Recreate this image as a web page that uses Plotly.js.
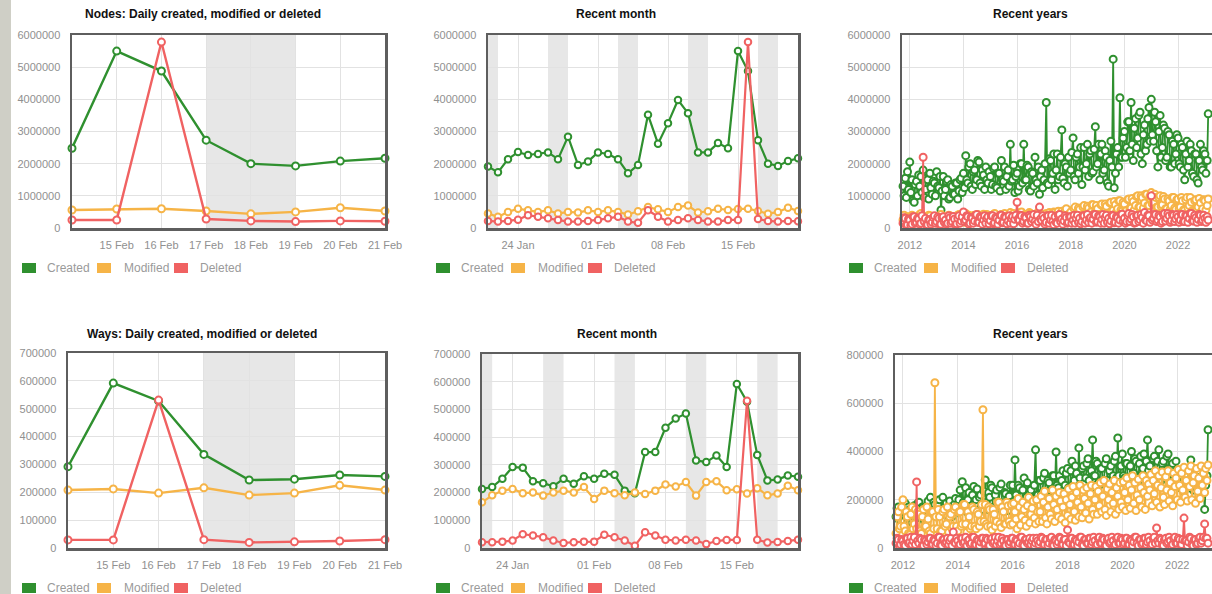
<!DOCTYPE html>
<html><head><meta charset="utf-8">
<script src="https://cdn.plot.ly/plotly-3.0.1.min.js"></script>
<style>html,body{margin:0;padding:0;overflow:hidden;background:#fff}#chart{width:1230px;height:594px}</style>
</head><body><div id="chart"></div>
<script>
// ---------- DATA (values in thousands) ----------
const titles = ['Nodes: Daily created, modified or deleted', 'Recent month', 'Recent years',
                'Ways: Daily created, modified or deleted', 'Recent month', 'Recent years'];
const seriesNames = ['Created', 'Modified', 'Deleted'];

const monthDates = ['2023-01-21','2023-01-22','2023-01-23','2023-01-24','2023-01-25','2023-01-26','2023-01-27','2023-01-28',
  '2023-01-29','2023-01-30','2023-01-31','2023-02-01','2023-02-02','2023-02-03','2023-02-04','2023-02-05','2023-02-06',
  '2023-02-07','2023-02-08','2023-02-09','2023-02-10','2023-02-11','2023-02-12','2023-02-13','2023-02-14','2023-02-15',
  '2023-02-16','2023-02-17','2023-02-18','2023-02-19','2023-02-20','2023-02-21'];
const weekTickVals = ['2023-02-15','2023-02-16','2023-02-17','2023-02-18','2023-02-19','2023-02-20','2023-02-21'];
const weekTickText = ['15 Feb','16 Feb','17 Feb','18 Feb','19 Feb','20 Feb','21 Feb'];
const monthTickVals = ['2023-01-24','2023-02-01','2023-02-08','2023-02-15'];
const monthTickText = ['24 Jan','01 Feb','08 Feb','15 Feb'];
const yearTickVals = ['2012-01-01','2014-01-01','2016-01-01','2018-01-01','2020-01-01','2022-01-01'];
const yearTickText = ['2012','2014','2016','2018','2020','2022'];
const weekendBands = [['2023-01-21','2023-01-22'],['2023-01-27','2023-01-29'],['2023-02-03','2023-02-05'],
                      ['2023-02-10','2023-02-12'],['2023-02-17','2023-02-19']];

const nodesMonthCreated = [1910,1730,2140,2360,2270,2300,2350,2140,2840,1960,2070,2350,2300,2140,1700,1960,
  3520,2620,3260,3980,3570,2350,2350,2640,2480,5500,4880,2730,2000,1930,2080,2170];
const nodesMonthModified = [450,350,500,600,550,500,550,450,500,480,550,500,550,500,420,520,
  650,580,500,650,700,480,520,600,560,590,600,530,440,500,630,530];
const nodesMonthDeleted = [220,200,220,260,400,350,300,250,200,200,220,250,300,350,200,160,
  550,350,200,250,300,250,200,200,250,250,5780,280,220,200,220,210];

const waysMonthCreated = [213,220,250,292,290,241,234,223,250,232,259,250,268,264,207,198,
  346,346,434,467,485,316,310,334,292,592,528,336,244,247,262,257];
const waysMonthModified = [165,190,207,213,198,200,189,200,207,200,220,177,207,198,190,200,
  195,207,229,222,238,189,238,241,208,212,197,216,190,197,225,208];
const waysMonthDeleted = [21,21,23,27,50,45,39,27,18,21,23,23,48,39,27,8,
  57,45,30,27,30,27,14,25,29,29,531,30,20,22,25,30];

// readings on the 1st and 15th of each month, Oct 2011 .. Feb 2023
const yearsFirst = [2011, 10], yearsLast = [2023, 2], yearsDays = ['01', '15'];
const nodesYearsCreated = [
  1300,1000,1550,950,1750,1200,
  2050,1100,1500,850,800,1350,1450,1000,1650,1300,1600,1100,1800,950,1200,1550,1500,900,1700,1250,1050,1450,1400,1000,
  1750,1300,1250,1600,560,1150,1600,1000,1200,1450,1500,900,950,1350,1300,1050,1050,1400,1400,900,1150,1500,1550,1100,
  1700,1250,2250,1500,1400,1900,2000,1300,1200,1750,1800,1350,1500,2100,2050,1400,1300,1800,1650,1200,1900,1500,1400,1750,
  1600,1200,1350,1850,1900,1300,1250,1700,1700,1150,2100,1500,1450,1900,1200,1600,1800,1300,2600,1450,1500,1950,1100,1600,
  1700,1150,1300,2000,2000,1400,2600,1500,1500,1950,1900,1200,1150,1750,1700,1300,2200,1500,1400,1900,1050,1600,1800,1250,
  1500,2000,3900,1400,1350,2150,2100,1500,1700,2300,1200,1800,2300,1500,1600,2200,3050,1550,1400,2000,1900,1300,2200,1700,
  1800,2350,2800,1600,1500,2200,2300,1700,1900,2500,1350,1900,2500,1800,2000,2600,1600,2300,2400,1700,1750,2450,3150,1900,
  2000,2600,1500,2300,2600,1700,1800,2400,2200,1400,1300,2100,2700,1900,5250,1250,1700,2300,2500,1900,4050,2200,2200,2800,
  3000,2200,2500,3300,3300,2400,3900,2600,2100,3100,3400,2500,2800,3500,3600,2300,2000,2900,3200,2400,2600,3400,3750,2700,
  4000,2900,2700,3600,3300,2400,1900,3000,3500,2200,2500,3200,3100,2100,2200,3000,2900,1900,1900,2700,2600,2000,2300,2900,
  2800,2000,1900,2600,2500,1800,1500,2300,2700,1900,2100,2600,2400,1700,1600,2300,2300,1500,1400,2100,2600,1900,1800,2400,
  2300,1700,2100,3550];
const nodesYearsModified = [
  250,400,150,300,350,180,
  200,350,400,150,150,300,300,200,250,420,450,200,180,350,320,150,220,400,380,200,150,320,280,180,
  350,150,200,380,420,200,160,320,300,180,250,400,380,200,190,330,330,160,260,400,420,220,200,350,
  300,180,450,250,220,400,350,200,180,380,400,220,260,420,320,180,200,360,430,250,280,420,240,180,
  380,200,230,420,450,250,300,180,200,400,420,250,260,450,350,200,220,420,480,260,300,450,250,200,
  420,250,280,480,500,250,230,420,380,220,300,480,450,260,260,420,400,230,320,500,480,280,270,430,
  350,250,450,300,280,480,420,300,330,500,480,300,300,520,400,280,520,350,350,550,600,380,420,320,
  500,330,350,600,650,400,420,620,580,380,380,650,700,430,450,680,620,420,500,720,720,450,480,700,
  600,420,420,720,750,480,500,750,680,450,450,780,800,520,550,820,720,500,600,850,850,560,520,800,
  750,520,550,880,900,600,620,920,820,560,700,980,1000,650,650,1000,950,620,780,1050,1050,700,700,1000,
  1100,750,800,1050,950,650,650,950,1000,680,720,980,900,600,600,900,850,580,700,950,950,620,580,880,
  900,600,650,950,850,560,550,880,950,620,700,950,800,540,520,850,880,580,650,920,780,520,600,880,
  850,560,700,900];
const nodesYearsDeleted = [
  150,320,300,100,100,280,
  250,80,120,350,350,150,180,300,280,120,150,380,2200,200,300,100,100,260,250,120,180,330,380,150,
  200,340,300,100,120,320,350,180,250,120,150,380,320,150,200,360,280,100,130,300,380,150,220,350,
  500,200,250,380,350,120,150,330,300,150,220,400,420,180,180,350,320,120,260,380,150,300,350,130,
  230,380,380,130,160,330,300,120,250,400,400,160,180,350,330,130,220,380,150,300,360,130,270,400,
  800,280,250,400,380,150,200,350,320,150,150,400,350,200,280,420,200,120,400,200,650,280,230,380,
  300,120,180,380,380,150,250,400,200,100,350,180,150,400,420,200,280,120,220,380,330,150,180,350,
  350,150,250,400,150,300,400,180,300,130,200,380,380,150,250,420,170,300,330,150,280,420,420,180,
  200,380,350,150,270,420,150,330,400,180,300,130,220,400,380,160,180,350,320,150,250,420,430,200,
  300,150,200,400,450,200,280,420,350,150,170,380,400,200,260,420,330,150,480,250,220,400,380,180,
  1000,250,300,420,420,200,250,400,350,150,200,420,450,220,300,450,380,180,230,420,400,200,280,420,
  350,180,250,420,420,200,200,400,380,180,300,450,450,220,220,400,330,180,270,420,400,200,250,400,
  300,180,350,250];

const waysYearsCreated = [
  130,165,170,115,110,160,
  150,110,185,140,120,170,160,115,105,150,175,130,140,185,190,125,130,170,165,110,120,160,195,140,
  210,150,150,190,180,130,130,175,200,140,160,210,140,180,185,135,150,195,170,130,135,180,205,150,
  160,200,240,160,275,190,190,250,150,200,230,170,170,220,255,180,200,245,145,210,220,160,180,235,
  282,190,160,230,210,260,250,170,150,220,240,175,190,250,265,180,170,230,225,160,155,215,260,190,
  260,190,365,220,200,260,250,180,180,240,290,200,210,270,170,230,240,190,200,260,407,220,220,280,
  280,220,230,290,310,220,215,280,270,210,240,300,300,230,398,260,250,300,220,280,320,240,260,310,
  330,250,250,320,360,260,280,340,310,250,415,290,260,330,340,270,290,350,370,280,245,320,448,300,
  300,360,350,270,260,330,330,270,280,350,370,280,255,320,340,270,300,360,380,290,456,300,270,340,
  390,300,290,350,350,280,270,340,400,300,310,370,360,280,275,350,380,300,330,390,300,360,448,320,
  340,290,290,370,380,300,300,360,407,310,280,350,360,290,320,380,390,300,275,340,350,290,300,360,
  320,260,250,310,300,240,235,300,330,260,270,320,365,280,240,300,310,250,260,320,290,240,230,290,
  160,260,300,490];
const waysYearsModified = [
  60,130,150,80,90,170,
  200,90,70,150,130,60,55,140,170,80,100,160,80,150,140,70,60,130,160,90,90,170,120,70,
  60,150,150,80,685,130,80,160,130,70,70,150,160,90,100,170,65,130,140,80,90,160,170,90,
  70,150,150,90,100,180,180,100,65,150,130,80,90,170,160,90,80,150,140,90,110,180,573,110,
  180,100,90,170,160,90,75,160,140,90,110,190,190,100,85,170,150,100,100,190,175,110,95,180,
  100,185,150,120,80,205,170,95,130,190,160,115,90,175,210,105,140,165,195,125,100,200,150,110,
  150,215,110,190,235,125,100,170,205,140,120,240,180,110,215,160,130,230,195,120,170,225,105,200,
  135,245,180,120,210,255,150,115,230,190,130,260,170,125,240,205,145,250,185,120,225,260,160,140,
  200,255,140,235,175,270,150,215,280,160,135,245,200,265,150,230,185,280,140,250,215,160,270,190,
  170,275,230,155,290,200,260,165,240,300,185,270,155,220,285,200,250,170,300,230,160,280,215,265,
  240,305,175,280,225,320,190,260,300,170,250,315,210,180,295,240,320,195,270,230,175,310,255,290,
  200,325,260,190,310,240,335,210,280,195,320,255,340,200,270,300,185,330,235,290,205,340,260,310,
  230,330,280,344];
const waysYearsDeleted = [
  20,40,35,10,15,35,
  30,15,10,40,40,20,25,45,15,30,45,15,274,30,20,40,35,10,10,35,30,15,25,40,
  40,15,15,35,30,10,20,45,45,15,10,35,35,20,25,40,15,30,40,10,66,25,20,40,
  30,10,15,40,40,20,25,45,10,30,35,15,20,45,45,15,15,35,30,10,25,40,40,20,
  20,40,35,10,10,35,40,20,25,45,15,30,45,15,20,40,30,10,10,35,35,15,25,40,
  40,15,15,35,30,10,20,45,45,15,10,35,35,20,25,40,15,30,40,10,20,40,30,15,
  25,45,40,15,15,35,35,10,20,40,45,15,10,35,30,15,25,45,40,15,15,35,35,10,
  75,25,20,40,40,15,15,35,30,10,25,45,45,15,10,35,35,20,20,40,40,15,25,45,
  30,10,15,40,45,20,20,40,35,10,10,35,40,20,25,45,30,10,15,40,45,20,20,40,
  35,15,20,40,40,15,15,35,30,10,25,45,45,20,10,35,35,15,20,40,40,15,25,45,
  30,10,15,40,45,20,83,30,20,40,35,15,10,35,40,20,25,45,30,10,15,40,45,20,
  20,40,35,15,15,35,124,30,30,10,25,45,40,15,10,35,35,15,20,40,45,20,30,45,
  100,40,40,20];

const nodesYTicks = [0,1000000,2000000,3000000,4000000,5000000,6000000];
const waysYTicks = [0,100000,200000,300000,400000,500000,600000,700000];
const waysYearsYTicks = [0,200000,400000,600000,800000];

// ---------- BUILD ----------
const W = 1230, H = 594;
const X = p => p / W, Y = p => 1 - p / H;
const FONT = 'Liberation Sans, Arial, sans-serif';
const COLORS = ['#2f902f', '#f6b447', '#f06262'];
const k = a => a.map(v => v * 1000);

const yearsDates = [];
for (let y = yearsFirst[0], m = yearsFirst[1]; y < yearsLast[0] || (y === yearsLast[0] && m <= yearsLast[1]); ) {
  yearsDays.forEach(d => yearsDates.push(y + '-' + String(m).padStart(2, '0') + '-' + d));
  m++; if (m > 12) { m = 1; y++; }
}
const weekDates = monthDates.slice(-8);
const last8 = a => a.slice(-8);
const yearsRange = ['2011-09-17', '2023-06-01'];

const panels = [
  {px:[72,385], py:[35,228], x:weekDates, xr:[weekDates[0], weekDates[7]], tv:weekTickVals, tt:weekTickText,
   yt:nodesYTicks, yr:[0,6000000], bands:[weekendBands[4]], s:[last8(nodesMonthCreated), last8(nodesMonthModified), last8(nodesMonthDeleted)], col:0, row:0, ms:7, lw:2.4},
  {px:[488,798], py:[35,228], x:monthDates, xr:[monthDates[0], monthDates[31]], tv:monthTickVals, tt:monthTickText,
   yt:nodesYTicks, yr:[0,6000000], bands:weekendBands, s:[nodesMonthCreated, nodesMonthModified, nodesMonthDeleted], col:1, row:0, ms:6.5, lw:2.2},
  {px:[902,1216], py:[35,228], x:yearsDates, xr:yearsRange, tv:yearTickVals, tt:yearTickText,
   yt:nodesYTicks, yr:[0,6000000], bands:[], s:[nodesYearsCreated, nodesYearsModified, nodesYearsDeleted], col:2, row:0, ms:7, lw:1.8},
  {px:[68,385], py:[353,548], x:weekDates, xr:[weekDates[0], weekDates[7]], tv:weekTickVals, tt:weekTickText,
   yt:waysYTicks, yr:[0,700000], bands:[weekendBands[4]], s:[last8(waysMonthCreated), last8(waysMonthModified), last8(waysMonthDeleted)], col:0, row:1, ms:7, lw:2.4},
  {px:[482,798], py:[354,548], x:monthDates, xr:[monthDates[0], monthDates[31]], tv:monthTickVals, tt:monthTickText,
   yt:waysYTicks, yr:[0,700000], bands:weekendBands, s:[waysMonthCreated, waysMonthModified, waysMonthDeleted], col:1, row:1, ms:6.5, lw:2.2},
  {px:[895,1216], py:[355,548], x:yearsDates, xr:yearsRange, tv:yearTickVals, tt:yearTickText,
   yt:waysYearsYTicks, yr:[0,800000], bands:[], s:[waysYearsCreated, waysYearsModified, waysYearsDeleted], col:2, row:1, ms:7, lw:1.8}
];
const titlePos = [[203,14],[616,14],[1030,14],[202,334],[617,334],[1030,334]];
const legendCols = [21, 435, 848], legendRows = [268, 588];

const layout = {width: W, height: H, margin:{l:0,r:0,t:0,b:0,pad:0}, paper_bgcolor:'#fff', plot_bgcolor:'#fff',
  showlegend:false, font:{family:FONT}, shapes:[], annotations:[]};
const data = [];
const tickFont = {family:FONT, size:11, color:'#909090'};

layout.shapes.push({type:'rect', xref:'paper', yref:'paper', x0:0, x1:X(11), y0:0, y1:1, fillcolor:'#cfcfc6', line:{width:0}, layer:'below'});

panels.forEach((p, i) => {
  const n = i === 0 ? '' : String(i + 1);
  layout['xaxis' + n] = {domain:[X(p.px[0]), X(p.px[1])], anchor:'y' + n, type:'date', range:p.xr,
    tickvals:p.tv, ticktext:p.tt, showgrid:true, gridcolor:'#e2e2e2', gridwidth:1, showline:true, mirror:true,
    linecolor:'#5e5e5e', linewidth:2.5, ticks:'', tickfont:tickFont, zeroline:false, fixedrange:true, ticklabelstandoff:5};
  layout['yaxis' + n] = {domain:[Y(p.py[1]), Y(p.py[0])], anchor:'x' + n, range:p.yr, tickvals:p.yt,
    ticktext:p.yt.map(String), showgrid:true, gridcolor:'#e2e2e2', gridwidth:1, showline:true, mirror:true,
    linecolor:'#5e5e5e', linewidth:2.5, ticks:'', tickfont:tickFont, zeroline:false, fixedrange:true, ticklabelstandoff:7};
  p.bands.forEach(b => layout.shapes.push({type:'rect', xref:'x' + n, yref:'y' + n + ' domain', x0:b[0], x1:b[1], y0:0, y1:1,
    fillcolor:'#e7e7e7', line:{width:0}, layer:'below'}));
  p.s.forEach((vals, j) => data.push({type:'scatter', mode:'lines+markers', x:p.x, y:k(vals), name:seriesNames[j],
    xaxis:'x' + n, yaxis:'y' + n, cliponaxis:false, hoverinfo:'skip',
    line:{color:COLORS[j], width:p.lw}, marker:{symbol:'circle', size:p.ms, color:'#ffffff', line:{color:COLORS[j], width:2}}}));
  layout.annotations.push({xref:'paper', yref:'paper', x:X(titlePos[i][0]), y:Y(titlePos[i][1]), xanchor:'center', yanchor:'middle',
    text:'<b>' + titles[i] + '</b>', showarrow:false, font:{family:FONT, size:12, color:'#111'}});
  const x0 = legendCols[p.col], cy = legendRows[p.row];
  const sq = [0, 75, 152], tx = [24, 101, 177];
  seriesNames.forEach((nm, j) => {
    layout.shapes.push({type:'rect', xref:'paper', yref:'paper', x0:X(x0 + sq[j] + 1), x1:X(x0 + sq[j] + 15),
      y0:Y(cy + 5), y1:Y(cy - 5), fillcolor:COLORS[j], line:{width:0}});
    layout.annotations.push({xref:'paper', yref:'paper', x:X(x0 + tx[j]), y:Y(cy), xanchor:'left', yanchor:'middle',
      text:nm, showarrow:false, font:{family:FONT, size:12, color:'#9a9a9a'}});
  });
});

Plotly.newPlot('chart', data, layout, {displayModeBar:false, staticPlot:true});
</script></body></html>
